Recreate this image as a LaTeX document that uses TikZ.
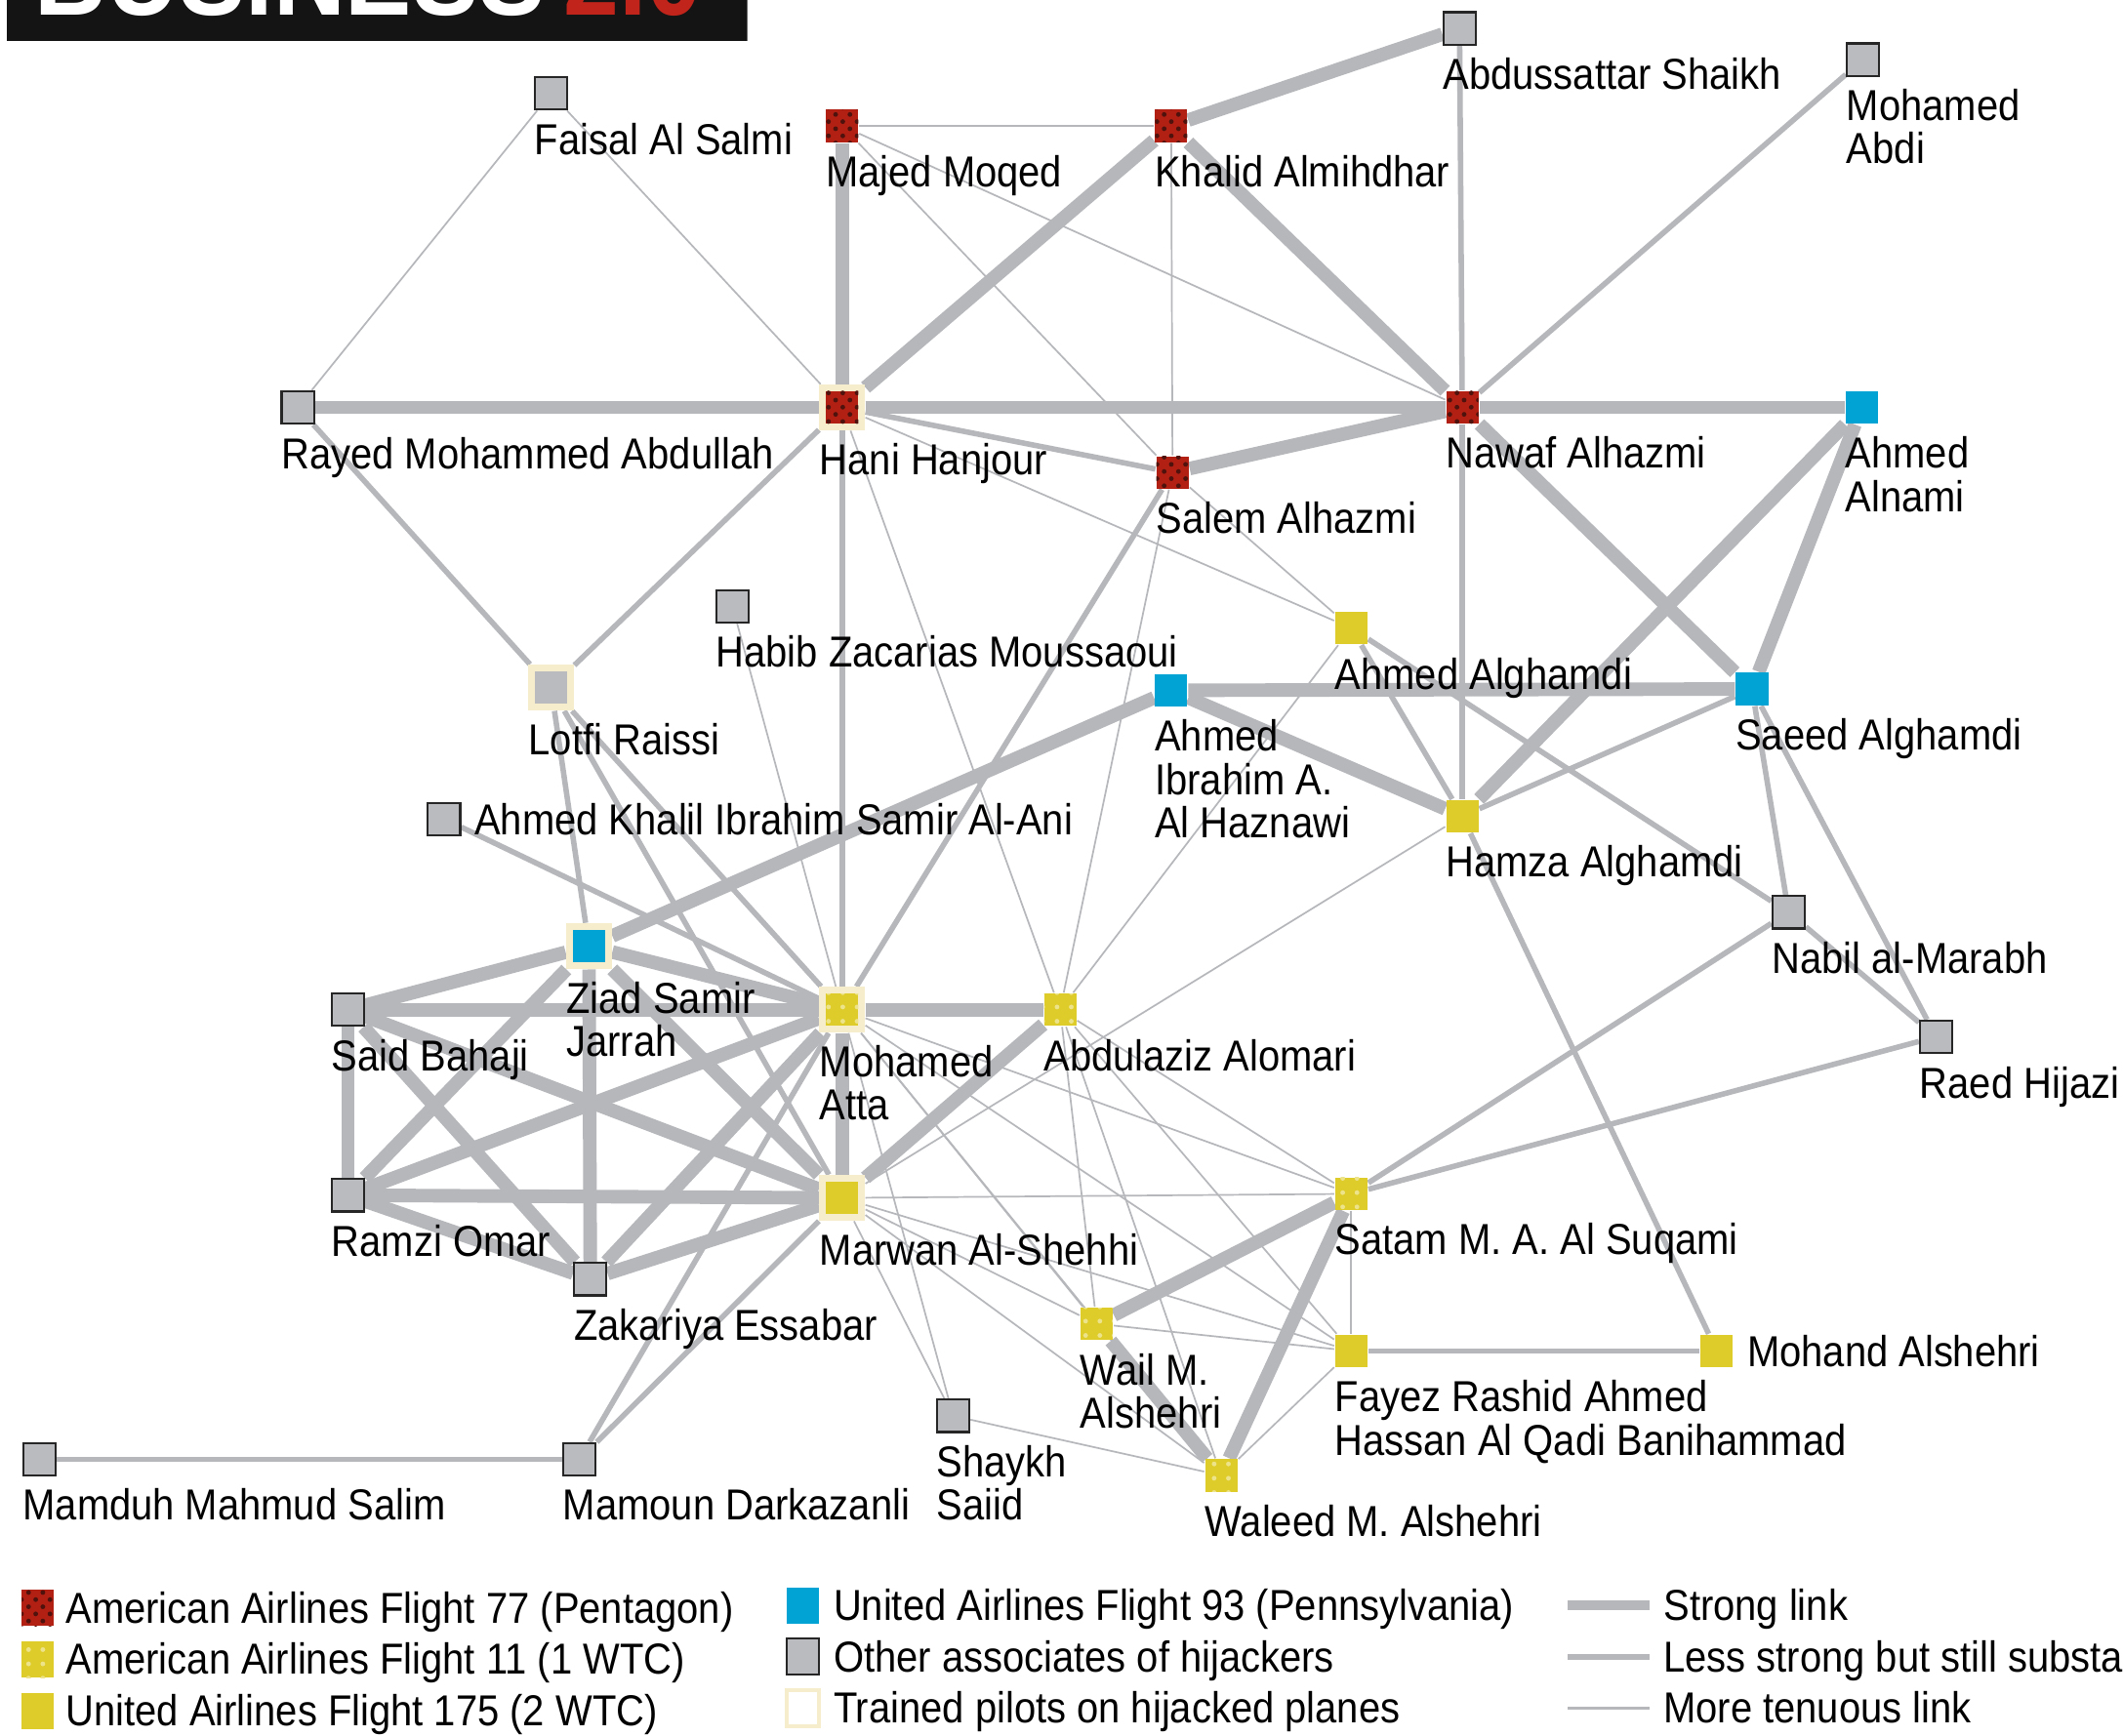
\documentclass[tikz,border=0pt]{standalone}
\usepackage{fontspec}
\setmainfont[FakeStretch=0.9]{Liberation Sans}
\usetikzlibrary{patterns,backgrounds}

\definecolor{rojo}{RGB}{178,32,20}
\definecolor{rojoosc}{RGB}{80,18,12}
\definecolor{amarillo}{RGB}{222,204,42}
\definecolor{azul}{RGB}{0,163,212}
\definecolor{gris}{RGB}{186,187,190}
\definecolor{enlace}{RGB}{182,183,187}
\definecolor{crema}{RGB}{245,237,204}
\definecolor{rojotit}{RGB}{192,36,27}

\tikzset{
  caja/.style={rectangle, minimum size=6.8pt, inner sep=0},
  aa77/.style={caja, fill=rojo, postaction={pattern=crosshatch dots, pattern color=rojoosc}},
  aa11/.style={caja, fill=amarillo, postaction={pattern=dots, pattern color=amarillo!55!white}},
  ua175/.style={caja, fill=amarillo},
  ua93/.style={caja, fill=azul},
  otro/.style={caja, fill=gris, draw=black!85, line width=0.45pt},
  piloto/.style={preaction={draw=crema, line width=2.85pt}, outer sep=1.5pt},
  lab/.style={anchor=north west, inner sep=0, align=left, yshift=-2.4pt},
  labd/.style={anchor=west, inner sep=0, xshift=2.6pt},
  leyenda/.style={anchor=base west, inner sep=0},
  fuerte/.style={draw=enlace, line width=2.85pt},
  medio/.style={draw=enlace, line width=1.14pt},
  debil/.style={draw=enlace, line width=0.35pt},
}

\begin{document}
\begin{tikzpicture}[x=0.01cm, y=-0.01cm, font=\fontsize{9.1}{9.1}\selectfont]
    \useasboundingbox (0,0) rectangle (1568,1282);
    \clip (0,0) rectangle (1568,1282);

    % Cabecera
    \begin{scope}
      \clip (5,0) rectangle (552,30);
      \fill[black!92] (5,0) rectangle (552,30);
      \node[anchor=base west, inner sep=0, text=white, font=\fontsize{23.3}{23.3}\selectfont\bfseries] (titulo) at (25,11) {BUSINESS\,\textcolor{rojotit}{2.0}};
    \end{scope}

    % Personas
    \node[otro] (faisal) at (407,69) {};
    \node[aa77] (majed) at (622,93) {};
    \node[aa77] (khalid) at (865,93) {};
    \node[otro] (abdussattar) at (1078,21) {};
    \node[otro] (abdi) at (1376,44) {};
    \node[otro] (rayed) at (220,301) {};
    \node[aa77, piloto] (hani) at (622,301) {};
    \node[aa77] (salem) at (866,349) {};
    \node[aa77] (nawaf) at (1080,301) {};
    \node[ua93] (alnami) at (1375,301) {};
    \node[otro] (habib) at (541,448) {};
    \node[ua175] (aghamdi) at (998,464) {};
    \node[otro, piloto, draw=none] (lotfi) at (407,508) {};
    \node[ua93] (haznawi) at (865,510) {};
    \node[ua93] (saeed) at (1294,509) {};
    \node[otro] (alani) at (328,605) {};
    \node[ua175] (hamza) at (1080,603) {};
    \node[otro] (nabil) at (1321,674) {};
    \node[ua93, piloto] (ziad) at (435,699) {};
    \node[otro] (bahaji) at (257,746) {};
    \node[aa11, piloto] (atta) at (622,746) {};
    \node[aa11] (alomari) at (783,746) {};
    \node[otro] (hijazi) at (1430,766) {};
    \node[otro] (omar) at (257,883) {};
    \node[ua175, piloto] (marwan) at (622,885) {};
    \node[aa11] (suqami) at (998,882) {};
    \node[otro] (essabar) at (436,945) {};
    \node[aa11] (wail) at (810,978) {};
    \node[ua175] (fayez) at (998,998) {};
    \node[ua175] (mohand) at (1268,998) {};
    \node[otro] (saiid) at (704,1046) {};
    \node[otro] (salim) at (29,1078) {};
    \node[otro] (darkazanli) at (428,1078) {};
    \node[aa11] (waleed) at (902,1090) {};

    % Nombres
    \node[lab] at (faisal.south west) {Faisal Al Salmi};
    \node[lab] at (majed.south west) {Majed Moqed};
    \node[lab] at (khalid.south west) {Khalid Almihdhar};
    \node[lab] at (abdussattar.south west) {Abdussattar Shaikh};
    \node[lab] at (abdi.south west) {Mohamed\\Abdi};
    \node[lab] at (rayed.south west) {Rayed Mohammed Abdullah};
    \node[lab] at (hani.south west) {Hani Hanjour};
    \node[lab] at (salem.south west) {Salem Alhazmi};
    \node[lab] at (nawaf.south west) {Nawaf Alhazmi};
    \node[lab] at (alnami.south west) {Ahmed\\Alnami};
    \node[lab] at (habib.south west) {Habib Zacarias Moussaoui};
    \node[lab] at (aghamdi.south west) {Ahmed Alghamdi};
    \node[lab] at (lotfi.south west) {Lotfi Raissi};
    \node[lab] at (haznawi.south west) {Ahmed\\Ibrahim A.\\Al Haznawi};
    \node[lab] at (saeed.south west) {Saeed Alghamdi};
    \node[labd] at (alani.east) {Ahmed Khalil Ibrahim Samir Al-Ani};
    \node[lab] at (hamza.south west) {Hamza Alghamdi};
    \node[lab] at (nabil.south west) {Nabil al-Marabh};
    \node[lab] at (ziad.south west) {Ziad Samir\\Jarrah};
    \node[lab] at (bahaji.south west) {Said Bahaji};
    \node[lab] at (atta.south west) {Mohamed\\Atta};
    \node[lab] at (alomari.south west) {Abdulaziz Alomari};
    \node[lab] at (hijazi.south west) {Raed Hijazi};
    \node[lab] at (omar.south west) {Ramzi Omar};
    \node[lab] at (marwan.south west) {Marwan Al-Shehhi};
    \node[lab] at (suqami.south west) {Satam M. A. Al Suqami};
    \node[lab] at (essabar.south west) {Zakariya Essabar};
    \node[lab] at (wail.south west) {Wail M.\\Alshehri};
    \node[lab] at (fayez.south west) {Fayez Rashid Ahmed\\Hassan Al Qadi Banihammad};
    \node[labd] at (mohand.east) {Mohand Alshehri};
    \node[lab] at (saiid.south west) {Shaykh\\Saiid};
    \node[lab] at (salim.south west) {Mamduh Mahmud Salim};
    \node[lab] at (darkazanli.south west) {Mamoun Darkazanli};
    \node[lab] at (waleed.south west) {Waleed M. Alshehri};

    % Enlaces
    \begin{scope}[on background layer]
      \fill[white] (0,0) rectangle (1568,1282);
      \foreach \a/\b in {faisal/rayed, faisal/hani, majed/khalid, majed/nawaf, majed/salem, khalid/salem,
          hani/aghamdi, hani/alomari, salem/aghamdi, salem/alomari, habib/atta, aghamdi/alomari,
          hamza/marwan, atta/suqami, atta/fayez, atta/wail, atta/waleed, atta/saiid,
          marwan/suqami, marwan/fayez, marwan/wail, marwan/waleed, marwan/saiid,
          alomari/suqami, alomari/fayez, alomari/wail, alomari/waleed,
          wail/fayez, fayez/waleed, saiid/waleed, suqami/fayez}
        \draw[debil] (\a) -- (\b);
      \foreach \a/\b in {rayed/lotfi, hani/lotfi, hani/atta, hani/salem, salem/atta, lotfi/ziad,
          lotfi/atta, lotfi/marwan, alani/atta, abdussattar/nawaf, abdi/nawaf, nawaf/hamza,
          aghamdi/hamza, aghamdi/nabil, hamza/saeed, hamza/mohand, saeed/nabil, saeed/hijazi,
          nabil/hijazi, nabil/suqami, hijazi/suqami, fayez/mohand, salim/darkazanli,
          darkazanli/atta, darkazanli/marwan}
        \draw[medio] (\a) -- (\b);
      \foreach \a/\b in {rayed/hani, hani/nawaf, hani/khalid, khalid/nawaf, khalid/abdussattar,
          majed/hani, salem/nawaf, nawaf/alnami, nawaf/saeed, alnami/saeed, alnami/hamza,
          haznawi/saeed, haznawi/hamza, ziad/haznawi, ziad/bahaji, ziad/atta, ziad/omar,
          ziad/essabar, ziad/marwan, bahaji/atta, bahaji/omar, bahaji/essabar, bahaji/marwan,
          omar/atta, omar/marwan, omar/essabar, essabar/atta, essabar/marwan, atta/marwan,
          atta/alomari, marwan/alomari, wail/suqami, waleed/suqami, wail/waleed}
        \draw[fuerte] (\a) -- (\b);
    \end{scope}

    % Leyenda
    \node[aa77, minimum height=7.6pt] (l77) at (28,1188) {};
    \node[aa11, minimum height=7.6pt] (l11) at (28,1226) {};
    \node[ua175, minimum height=7.6pt] (l175) at (28,1264) {};
    \node[ua93, minimum height=7.6pt] (l93) at (593,1186) {};
    \node[otro, minimum height=7.6pt] (lotro) at (593,1224) {};
    \node[caja, minimum height=7.6pt, draw=crema, line width=0.8pt] (lpiloto) at (593,1262) {};
    \node[leyenda] at (48,1199) {American Airlines Flight 77 (Pentagon)};
    \node[leyenda] at (48,1237) {American Airlines Flight 11 (1 WTC)};
    \node[leyenda] at (48,1275) {United Airlines Flight 175 (2 WTC)};
    \node[leyenda] at (615,1197) {United Airlines Flight 93 (Pennsylvania)};
    \node[leyenda] at (615,1235) {Other associates of hijackers};
    \node[leyenda] at (615,1273) {Trained pilots on hijacked planes};
    \coordinate (f1) at (1158,1186);
    \coordinate (f2) at (1218,1186);
    \coordinate (m1) at (1158,1224);
    \coordinate (m2) at (1218,1224);
    \coordinate (d1) at (1158,1262);
    \coordinate (d2) at (1218,1262);
    \draw[enlace, line width=2.2pt] (f1) -- (f2);
    \draw[medio] (m1) -- (m2);
    \draw[enlace, line width=0.6pt] (d1) -- (d2);
    \node[leyenda] at (1228,1197) {Strong link};
    \node[leyenda] at (1228,1235) {Less strong but still substan};
    \node[leyenda] at (1228,1273) {More tenuous link};
\end{tikzpicture}
\end{document}
